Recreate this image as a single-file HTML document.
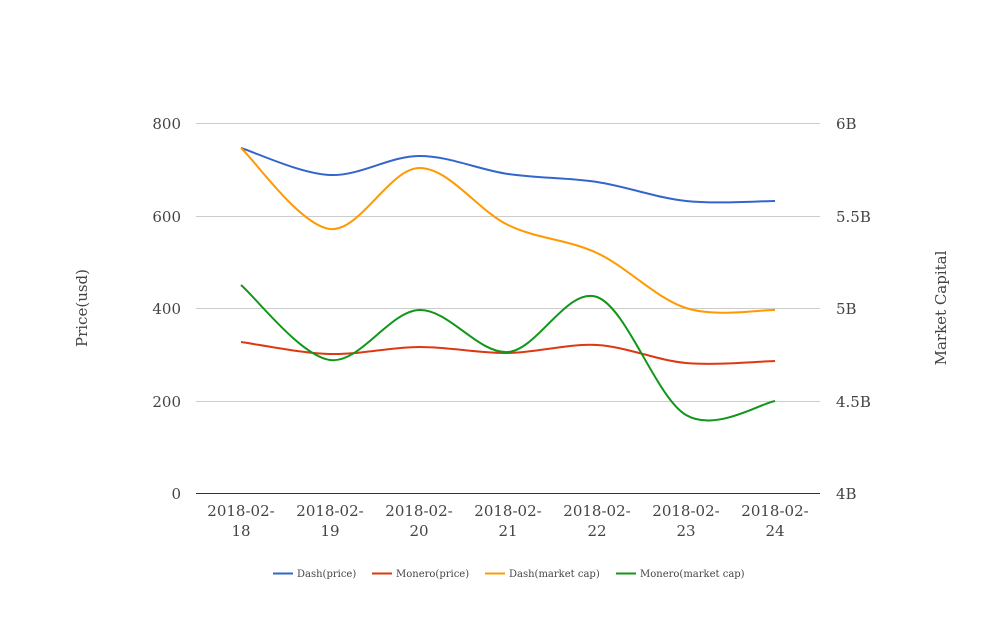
<!DOCTYPE html>
<html><head><meta charset="utf-8"><style>
body{margin:0;background:#fff}
text{font-family:"DejaVu Serif","Liberation Serif",serif;fill:#444}
</style></head><body>
<svg width="1008" height="616" xmlns="http://www.w3.org/2000/svg">
<g stroke="#ccc" stroke-width="1">
<line x1="196" y1="123.5" x2="820" y2="123.5"/>
<line x1="196" y1="216.5" x2="820" y2="216.5"/>
<line x1="196" y1="308.5" x2="820" y2="308.5"/>
<line x1="196" y1="401.5" x2="820" y2="401.5"/>
</g>
<line x1="196" y1="493.5" x2="820" y2="493.5" stroke="#333" stroke-width="1"/>
<g font-size="15" text-anchor="end">
<text x="181" y="129">800</text><text x="181" y="222">600</text><text x="181" y="314">400</text><text x="181" y="407">200</text><text x="181" y="499">0</text>
</g>
<g font-size="15" text-anchor="start">
<text x="836" y="129">6B</text><text x="836" y="222">5.5B</text><text x="836" y="314">5B</text><text x="836" y="407">4.5B</text><text x="836" y="499">4B</text>
</g>
<g font-size="15" text-anchor="middle">
<text x="241" y="516">2018-02-</text><text x="241" y="536">18</text>
<text x="330" y="516">2018-02-</text><text x="330" y="536">19</text>
<text x="419" y="516">2018-02-</text><text x="419" y="536">20</text>
<text x="508" y="516">2018-02-</text><text x="508" y="536">21</text>
<text x="597" y="516">2018-02-</text><text x="597" y="536">22</text>
<text x="686" y="516">2018-02-</text><text x="686" y="536">23</text>
<text x="775" y="516">2018-02-</text><text x="775" y="536">24</text>
</g>
<text font-size="15" transform="translate(87,308) rotate(-90)" text-anchor="middle">Price(usd)</text>
<text font-size="15" transform="translate(946,308) rotate(-90)" text-anchor="middle">Market Capital</text>
<g fill="none" stroke-width="2" id="lines"></g>
<g font-size="10">
<line x1="273" y1="573.5" x2="293" y2="573.5" stroke="#3366cc" stroke-width="2"/><text x="297" y="577">Dash(price)</text>
<line x1="372" y1="573.5" x2="392" y2="573.5" stroke="#dc3912" stroke-width="2"/><text x="396" y="577">Monero(price)</text>
<line x1="485" y1="573.5" x2="505" y2="573.5" stroke="#ff9900" stroke-width="2"/><text x="509" y="577">Dash(market cap)</text>
<line x1="616" y1="573.5" x2="636" y2="573.5" stroke="#109618" stroke-width="2"/><text x="640" y="577">Monero(market cap)</text>
</g>
</svg>
<script>
const xs=[241,330,419,508,597,686,775];
const S=[["#3366cc",[148,175,156,174,182,201,201]],["#dc3912",[342,354,347,353,345,363,361]],["#ff9900",[148,229,168,225,253,308,310]],["#109618",[285,360,310,352,297,415,401]]];
const g=document.getElementById('lines');
for(const [c,ys] of S){
 let d=`M${xs[0]},${ys[0]}`;
 for(let i=0;i<6;i++){
  const p0=[xs[Math.max(i-1,0)],ys[Math.max(i-1,0)]],p1=[xs[i],ys[i]],p2=[xs[i+1],ys[i+1]],p3=[xs[Math.min(i+2,6)],ys[Math.min(i+2,6)]];
  const t=0.5/3;
  const c1=[p1[0]+(p2[0]-p0[0])*t,p1[1]+(p2[1]-p0[1])*t];
  const c2=[p2[0]-(p3[0]-p1[0])*t,p2[1]-(p3[1]-p1[1])*t];
  d+=` C${c1[0]},${c1[1]} ${c2[0]},${c2[1]} ${p2[0]},${p2[1]}`;
 }
 const p=document.createElementNS('http://www.w3.org/2000/svg','path');
 p.setAttribute('d',d);p.setAttribute('stroke',c);g.appendChild(p);
}
</script>
</body></html>
